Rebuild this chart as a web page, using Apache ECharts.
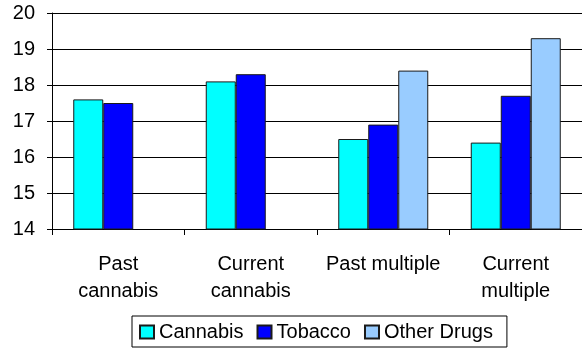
<!DOCTYPE html>
<html>
<head>
<meta charset="utf-8">
<script src="https://cdn.jsdelivr.net/npm/echarts@6/dist/echarts.min.js"></script>
<style>
  html, body { margin: 0; padding: 0; background: #fff; }
  #chart { width: 582px; height: 349px; }
</style>
</head>
<body>
<div id="chart"></div>
<script>
// Age of first use by user group
const categories = ['Past\ncannabis', 'Current\ncannabis', 'Past multiple', 'Current\nmultiple'];
const cannabis = [17.6, 18.1, 16.5, 16.4];
const tobacco = [17.5, 18.3, 16.9, 17.7];
const otherDrugs = [null, null, 18.4, 19.3];
const yTicks = [14, 15, 16, 17, 18, 19, 20];

const FONT = 'Liberation Sans, Arial, sans-serif';
const barBorder = { borderColor: '#1a1a1a', borderWidth: 1 };

const chart = echarts.init(document.getElementById('chart'), null, { renderer: 'canvas' });
chart.setOption({
  animation: false,
  backgroundColor: '#ffffff',
  grid: { left: 52, top: 13, width: 537, height: 216, containLabel: false },
  legend: {
    left: 132, top: 316,
    orient: 'horizontal',
    borderColor: '#000', borderWidth: 1,
    padding: [6, 14, 5, 7],
    itemWidth: 14, itemHeight: 13, itemGap: 13,
    icon: 'rect',
    textStyle: { fontFamily: FONT, fontSize: 20, color: '#000' },
    data: ['Cannabis', 'Tobacco', 'Other Drugs']
  },
  xAxis: {
    type: 'category',
    data: categories,
    axisLine: { lineStyle: { color: '#000', width: 1 } },
    axisTick: { show: true, interval: 0, alignWithLabel: false, length: 6, lineStyle: { color: '#000' } },
    axisLabel: {
      interval: 0, margin: 22,
      fontFamily: FONT, fontSize: 20, lineHeight: 27, color: '#000', align: 'center'
    }
  },
  yAxis: {
    type: 'value',
    min: yTicks[0], max: yTicks[yTicks.length - 1], interval: 1,
    axisLine: { show: true, lineStyle: { color: '#000', width: 1 } },
    axisTick: { show: true, inside: false, length: 5, lineStyle: { color: '#000' } },
    splitLine: { show: true, lineStyle: { color: '#000', width: 1 } },
    axisLabel: { margin: 17, fontFamily: FONT, fontSize: 20, color: '#000' }
  },
  series: [
    { name: 'Cannabis', type: 'bar', data: cannabis, barWidth: 30, barGap: '0%',
      itemStyle: Object.assign({ color: '#00FFFF' }, barBorder) },
    { name: 'Tobacco', type: 'bar', data: tobacco, barWidth: 30, barGap: '0%',
      itemStyle: Object.assign({ color: '#0000FF' }, barBorder) },
    { name: 'Other Drugs', type: 'bar', data: otherDrugs, barWidth: 30, barGap: '0%',
      itemStyle: Object.assign({ color: '#99CCFF' }, barBorder) }
  ]
});
</script>
</body>
</html>
